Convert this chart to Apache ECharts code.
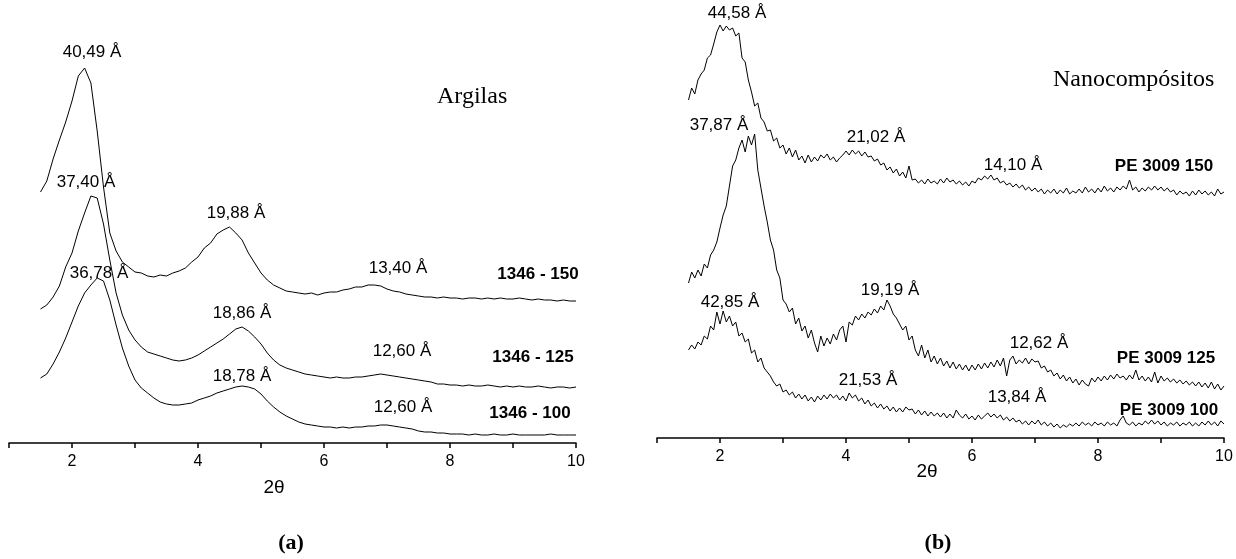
<!DOCTYPE html>
<html>
<head>
<meta charset="utf-8">
<script src="https://cdn.jsdelivr.net/npm/echarts@6/dist/echarts.min.js"></script>
<style>
  html, body { margin: 0; padding: 0; background: #fff; }
  #chart { width: 1236px; height: 559px; }
</style>
</head>
<body>
<div id="chart"></div>
<script>
// DRX das argilas (a) e dos nanocompósitos (b), intensidade em unidades arbitrárias
const scanStart = 1.5
const argStep = 0.1     // passo 2θ das curvas das argilas
const nanoStep = 0.05   // passo 2θ das curvas dos nanocompósitos

const xTicks = [2, 4, 6, 8, 10]

const argila150 = [
  251, 262, 284, 303, 321, 342, 367, 375, 360, 312,
  256, 210, 192, 181, 176, 171, 170, 167, 166, 168,
  167, 170, 172, 175, 181, 186, 195, 200, 209, 213,
  216, 210, 203, 190, 180, 170, 163, 158, 155, 152,
  151, 150, 149, 150, 148, 150, 151, 151, 153, 154,
  156, 156, 158, 158, 157, 154, 152, 151, 149, 148,
  147, 146, 146, 145, 146, 145, 145, 144, 145, 145,
  144, 145, 144, 145, 144, 144, 145, 144, 143, 144,
  143, 143, 142, 143, 142, 142
]
const argila125 = [
  134, 138, 146, 157, 176, 190, 212, 230, 247, 245,
  219, 183, 150, 128, 113, 103, 96, 91, 89, 87,
  85, 83, 82, 83, 85, 88, 92, 96, 100, 104,
  109, 114, 116, 112, 106, 99, 90, 83, 78, 75,
  73, 71, 69, 68, 67, 66, 65, 66, 65, 65,
  66, 66, 67, 68, 69, 68, 67, 66, 65, 64,
  63, 62, 61, 59, 59, 58, 58, 57, 58, 57,
  57, 58, 57, 56, 57, 56, 57, 56, 56, 57,
  56, 55, 56, 56, 55, 56
]
const argila100 = [
  65, 69, 79, 91, 105, 121, 137, 150, 158, 165,
  162, 143, 118, 95, 77, 63, 55, 50, 45, 41,
  39, 38, 38, 39, 40, 43, 45, 47, 50, 52,
  54, 56, 57, 56, 54, 49, 42, 36, 31, 27,
  24, 21, 19, 18, 17, 16, 16, 15, 16, 15,
  16, 16, 17, 17, 18, 18, 17, 16, 15, 14,
  12, 11, 11, 10, 10, 9, 9, 9, 8, 9,
  8, 8, 9, 8, 8, 9, 8, 8, 8, 8,
  8, 9, 8, 8, 8, 8
]

const pe150 = [
  338, 350, 344, 358, 364, 368, 380, 383, 394, 406,
  413, 407, 412, 408, 410, 402, 405, 380, 376, 358,
  346, 332, 335, 320, 316, 307, 308, 297, 300, 290,
  293, 284, 290, 281, 288, 278, 282, 275, 283, 276,
  281, 277, 283, 280, 284, 278, 281, 276, 280, 283,
  287, 283, 288, 284, 287, 282, 286, 281, 282, 277,
  279, 273, 275, 268, 271, 265, 269, 262, 266, 260,
  272, 258, 259, 255, 258, 254, 259, 255, 257, 254,
  259, 255, 260, 256, 258, 254, 257, 253, 256, 252,
  257, 255, 260, 258, 262, 259, 263, 258, 260, 255,
  257, 253, 255, 251, 254, 250, 253, 248, 251, 247,
  250, 246, 249, 244, 248, 245, 249, 244, 248, 245,
  250, 244, 247, 245, 249, 245, 251, 246, 249, 245,
  250, 246, 252, 247, 250, 246, 251, 248, 252, 249,
  258, 248, 251, 246, 250, 247, 251, 248, 252, 248,
  251, 247, 250, 246, 248, 243, 247, 244, 246, 242,
  247, 243, 248, 244, 247, 243, 246, 242, 249, 244,
  246
]
const pe125 = [
  155, 166, 160, 168, 162, 174, 170, 183, 188, 196,
  210, 223, 232, 252, 272, 278, 290, 298, 286, 302,
  293, 304, 268, 250, 232, 216, 198, 188, 168, 160,
  138, 134, 126, 130, 114, 120, 107, 112, 100, 108,
  95, 86, 102, 92, 100, 94, 104, 98, 108, 112,
  96, 116, 113, 122, 118, 124, 120, 126, 123, 129,
  125, 132, 128, 138, 132, 124, 120, 114, 108, 112,
  98, 102, 88, 82, 93, 80, 88, 76, 82, 74,
  80, 72, 77, 70, 76, 69, 74, 68, 73, 67,
  73, 68, 74, 69, 75, 70, 76, 71, 78, 72,
  80, 62, 78, 82, 74, 78, 75, 80, 74, 79,
  76, 77, 70, 72, 66, 68, 62, 65, 59, 63,
  57, 61, 55, 59, 53, 58, 54, 52, 60, 56,
  61, 57, 62, 58, 63, 59, 64, 60, 62, 58,
  63, 59, 68, 58, 62, 57, 61, 56, 66, 55,
  62, 57, 60, 56, 59, 55, 58, 54, 57, 53,
  56, 52, 56, 51, 55, 50, 56, 49, 54, 48,
  52
]
const pe100 = [
  88, 93, 89, 96, 93, 102, 99, 112, 108, 126,
  114, 127, 116, 122, 112, 116, 102, 105, 96, 99,
  85, 88, 76, 80, 70, 66, 62, 56, 52, 54,
  46, 48, 43, 46, 40, 44, 39, 43, 37, 41,
  36, 42, 38, 43, 39, 44, 40, 43, 38, 42,
  37, 45, 40, 43, 37, 40, 34, 38, 32, 35,
  30, 34, 29, 32, 27, 31, 26, 30, 26, 31,
  28, 29, 24, 28, 23, 27, 22, 26, 22, 25,
  21, 25, 20, 24, 20, 28, 23, 20, 24, 19,
  22, 18, 23, 19, 22, 25, 21, 24, 20, 23,
  18, 21, 17, 20, 16, 18, 14, 17, 13, 17,
  14, 18, 13, 16, 12, 15, 11, 14, 10, 13,
  11, 14, 12, 15, 12, 16, 13, 15, 12, 16,
  13, 15, 12, 16, 13, 15, 12, 18, 22, 15,
  13, 16, 12, 15, 13, 17, 14, 18, 14, 17,
  13, 16, 12, 15, 13, 16, 12, 15, 13, 16,
  12, 15, 12, 16, 13, 17, 13, 16, 12, 17,
  14
]

// rótulos dos picos: [texto, x, y] na página
const peakLabelsA = [
  ['40,49 Å', 92, 52], ['37,40 Å', 86, 182], ['36,78 Å', 99, 273],
  ['19,88 Å', 236, 213], ['18,86 Å', 242, 313], ['18,78 Å', 242, 376],
  ['13,40 Å', 398, 268], ['12,60 Å', 402, 351], ['12,60 Å', 403, 407]
]
const peakLabelsB = [
  ['44,58 Å', 737, 13], ['37,87 Å', 719, 125], ['42,85 Å', 730, 302],
  ['21,02 Å', 876, 137], ['19,19 Å', 890, 290], ['21,53 Å', 868, 380],
  ['14,10 Å', 1013, 165], ['12,62 Å', 1039, 343], ['13,84 Å', 1017, 397]
]
const sampleLabels = [
  ['1346 - 150', 538, 274], ['1346 - 125', 533, 357], ['1346 - 100', 530, 413],
  ['PE 3009 150', 1164, 166], ['PE 3009 125', 1166, 358], ['PE 3009 100', 1169, 410]
]

function toPairs(values, step) {
  return values.map((v, i) => [+(scanStart + i * step).toFixed(2), v])
}

function xAxisFor(gridIndex) {
  return {
    type: 'value', gridIndex: gridIndex, min: 1, max: 10, interval: 1,
    axisLine: { onZero: false, lineStyle: { color: '#000', width: 1.5 } },
    axisTick: { length: 5, lineStyle: { color: '#000', width: 1.5 } },
    axisLabel: {
      color: '#000', fontFamily: 'Liberation Sans', fontSize: 16, margin: 11,
      formatter: v => xTicks.indexOf(v) >= 0 ? String(v) : ''
    },
    splitLine: { show: false }
  }
}

function lineSeries(name, values, step, idx) {
  return {
    name: name, type: 'line', xAxisIndex: idx, yAxisIndex: idx,
    data: toPairs(values, step), symbol: 'none', smooth: false,
    lineStyle: { color: '#000', width: 1 }
  }
}

function text(str, x, y, font, align) {
  return {
    type: 'text', x: x, y: y, silent: true,
    style: {
      text: str, font: font, fill: '#000',
      textAlign: align || 'center', textVerticalAlign: 'middle',
      align: align || 'center', verticalAlign: 'middle'
    }
  }
}

const labelFont = '17px "Liberation Sans"'
const boldFont = 'bold 17px "Liberation Sans"'
let graphics = []
peakLabelsA.concat(peakLabelsB).forEach(p => graphics.push(text(p[0], p[1], p[2], labelFont)))
sampleLabels.forEach(p => graphics.push(text(p[0], p[1], p[2], boldFont)))
graphics.push(text('Argilas', 437, 97, '24px "Liberation Serif"', 'left'))
graphics.push(text('Nanocompósitos', 1053, 80, '24px "Liberation Serif"', 'left'))
graphics.push(text('2θ', 274, 488, '19px "Liberation Sans"'))
graphics.push(text('2θ', 927, 472, '19px "Liberation Sans"'))
graphics.push(text('(a)', 291, 543, 'bold 22px "Liberation Serif"'))
graphics.push(text('(b)', 938, 543, 'bold 22px "Liberation Serif"'))

let chart = echarts.init(document.getElementById('chart'), null, { renderer: 'canvas' })
chart.setOption({
  animation: false,
  backgroundColor: '#fff',
  grid: [
    { left: 9, top: 0, width: 567, height: 443 },
    { left: 657, top: 0, width: 567, height: 438 }
  ],
  xAxis: [xAxisFor(0), xAxisFor(1)],
  yAxis: [
    { type: 'value', gridIndex: 0, min: 0, max: 443, show: false },
    { type: 'value', gridIndex: 1, min: 0, max: 438, show: false }
  ],
  series: [
    lineSeries('1346 - 150', argila150, argStep, 0),
    lineSeries('1346 - 125', argila125, argStep, 0),
    lineSeries('1346 - 100', argila100, argStep, 0),
    lineSeries('PE 3009 150', pe150, nanoStep, 1),
    lineSeries('PE 3009 125', pe125, nanoStep, 1),
    lineSeries('PE 3009 100', pe100, nanoStep, 1)
  ],
  graphic: graphics
})
</script>
</body>
</html>
